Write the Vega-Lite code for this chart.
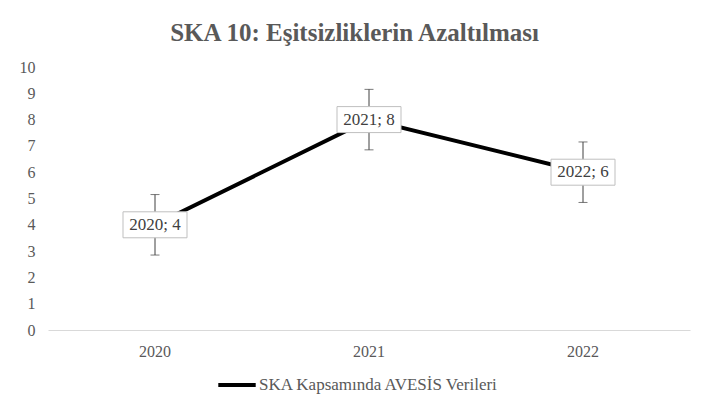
{
  "$schema": "https://vega.github.io/schema/vega-lite/v6.json",
  "autosize": "none",
  "width": 642,
  "height": 263,
  "padding": {"left": 48, "top": 67, "right": 14, "bottom": 86},
  "background": "white",
  "title": {
    "text": "SKA 10: Eşitsizliklerin Azaltılması",
    "font": "Liberation Serif",
    "fontSize": 25,
    "fontWeight": "bold",
    "color": "#595959",
    "anchor": "middle",
    "frame": "bounds",
    "offset": 13
  },
  "data": {
    "values": [
      {"year": "2020", "value": 4, "lo": 2.85, "hi": 5.15, "label": "2020; 4", "series": "SKA Kapsamında AVESİS Verileri"},
      {"year": "2021", "value": 8, "lo": 6.85, "hi": 9.15, "label": "2021; 8", "series": "SKA Kapsamında AVESİS Verileri"},
      {"year": "2022", "value": 6, "lo": 4.85, "hi": 7.15, "label": "2022; 6", "series": "SKA Kapsamında AVESİS Verileri"}
    ]
  },
  "encoding": {
    "x": {
      "field": "year", "type": "ordinal", "title": null,
      "axis": {"labelAngle": 0, "ticks": false, "domainColor": "#d9d9d9", "labelPadding": 13}
    }
  },
  "layer": [
    {
      "mark": {"type": "rule", "color": "#404040", "strokeWidth": 1},
      "encoding": {
        "y": {
          "field": "lo", "type": "quantitative", "title": null,
          "scale": {"domain": [0, 10]},
          "axis": {"values": [0,1,2,3,4,5,6,7,8,9,10], "labelOverlap": false, "grid": false, "domain": false, "ticks": false, "labelPadding": 13}
        },
        "y2": {"field": "hi"}
      }
    },
    {
      "mark": {"type": "tick", "orient": "horizontal", "size": 9, "thickness": 1, "color": "#404040"},
      "encoding": {"y": {"field": "lo", "type": "quantitative", "title": null,
          "axis": {"values": [0,1,2,3,4,5,6,7,8,9,10], "labelOverlap": false, "grid": false, "domain": false, "ticks": false, "labelPadding": 13}}}
    },
    {
      "mark": {"type": "tick", "orient": "horizontal", "size": 9, "thickness": 1, "color": "#404040"},
      "encoding": {"y": {"field": "hi", "type": "quantitative", "title": null,
          "axis": {"values": [0,1,2,3,4,5,6,7,8,9,10], "labelOverlap": false, "grid": false, "domain": false, "ticks": false, "labelPadding": 13}}}
    },
    {
      "mark": {"type": "line", "strokeWidth": 4},
      "encoding": {
        "y": {"field": "value", "type": "quantitative", "title": null,
          "axis": {"values": [0,1,2,3,4,5,6,7,8,9,10], "labelOverlap": false, "grid": false, "domain": false, "ticks": false, "labelPadding": 13}},
        "color": {
          "field": "series", "type": "nominal",
          "scale": {"range": ["#000000"]},
          "legend": {
            "title": null, "orient": "none", "legendX": 168, "legendY": 297,
            "symbolType": "stroke", "symbolStrokeWidth": 4, "symbolSize": 1400,
            "labelLimit": 400, "labelOffset": 1
          }
        }
      }
    },
    {
      "mark": {"type": "point", "shape": "M-1,-0.406H1V0.406H-1Z", "size": 4096, "filled": true, "fill": "white", "stroke": "#bfbfbf", "strokeWidth": 1, "opacity": 1},
      "encoding": {"y": {"field": "value", "type": "quantitative", "title": null,
          "axis": {"values": [0,1,2,3,4,5,6,7,8,9,10], "labelOverlap": false, "grid": false, "domain": false, "ticks": false, "labelPadding": 13}}}
    },
    {
      "mark": {"type": "text", "font": "Liberation Serif", "fontSize": 17, "color": "#404040", "baseline": "middle", "align": "center"},
      "encoding": {
        "y": {"field": "value", "type": "quantitative", "title": null,
          "axis": {"values": [0,1,2,3,4,5,6,7,8,9,10], "labelOverlap": false, "grid": false, "domain": false, "ticks": false, "labelPadding": 13}},
        "text": {"field": "label"}
      }
    }
  ],
  "config": {
    "font": "Liberation Serif",
    "view": {"stroke": null},
    "axis": {"labelFont": "Liberation Serif", "labelFontSize": 16, "labelColor": "#595959"},
    "axisY": {"labelOverlap": false},
    "legend": {"labelFont": "Liberation Serif", "labelFontSize": 17, "labelColor": "#595959"},
    "text": {"font": "Liberation Serif"}
  }
}
